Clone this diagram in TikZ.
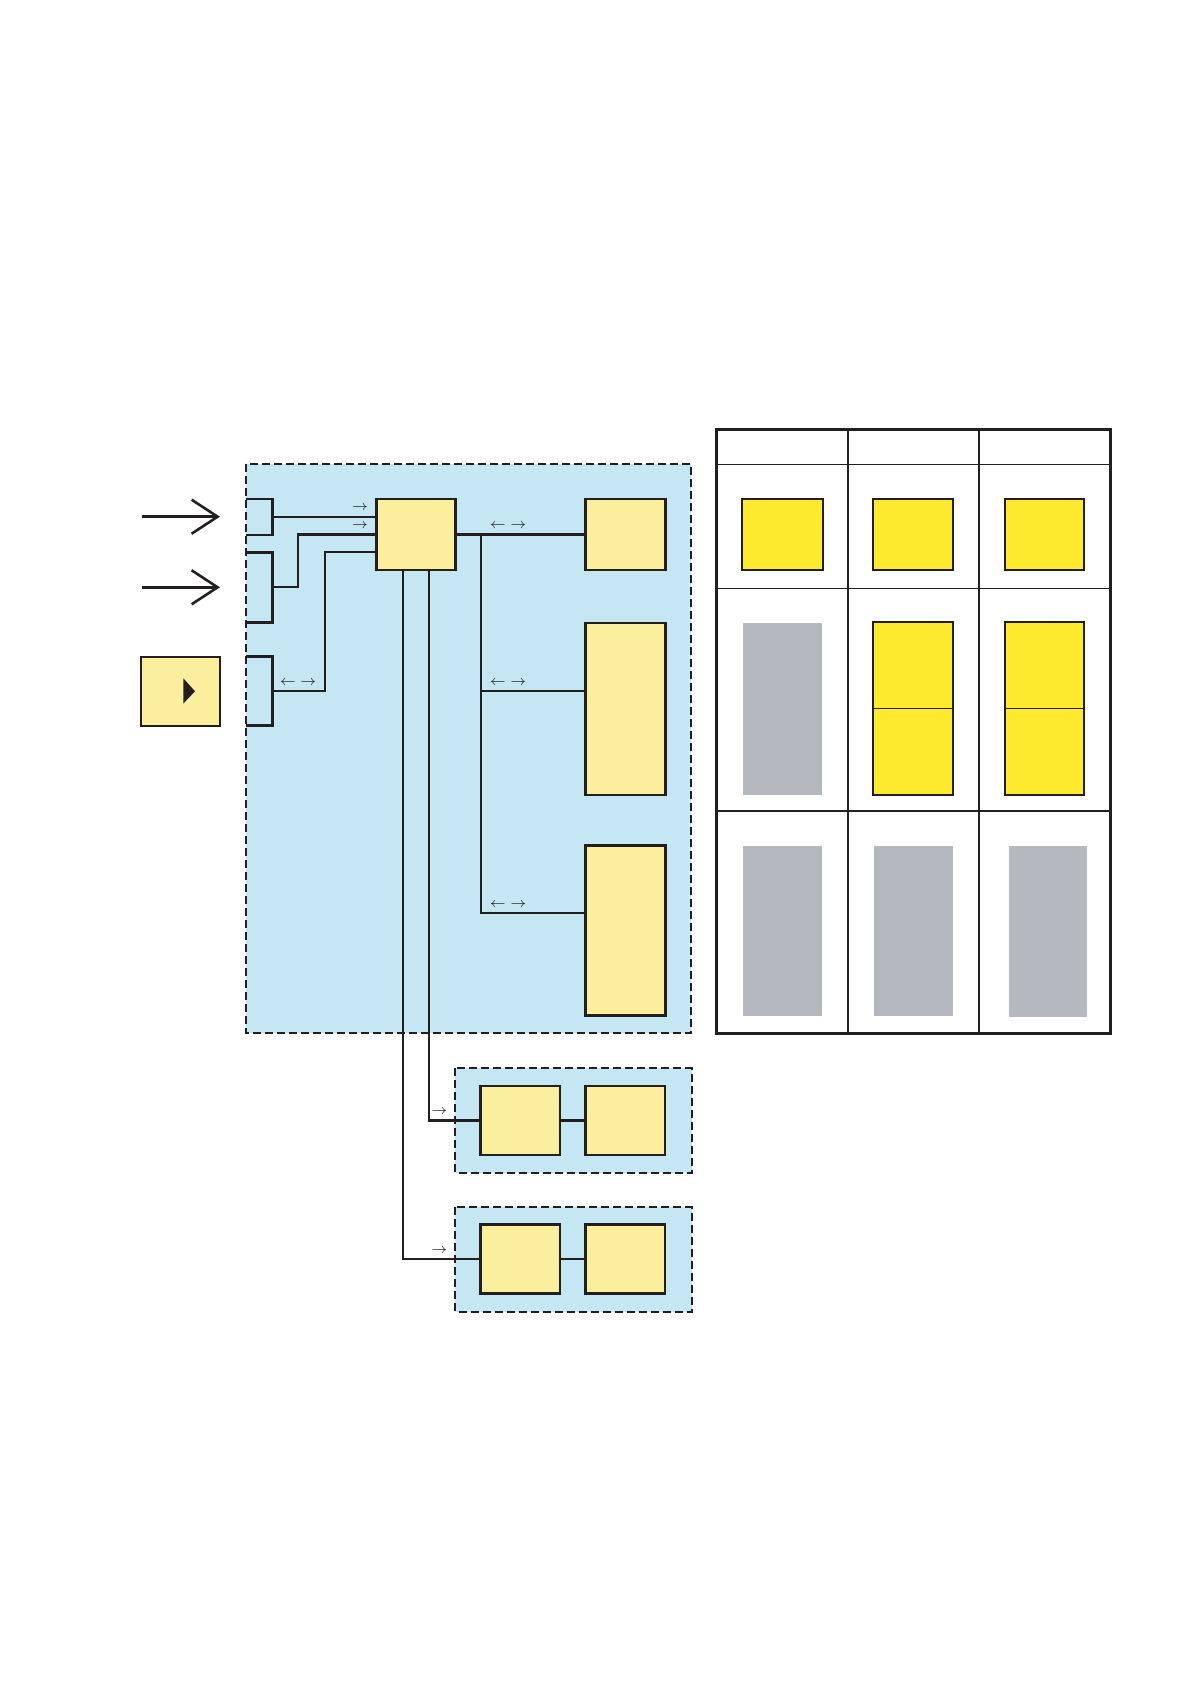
\documentclass[tikz,border=0pt]{standalone}
\usetikzlibrary{arrows.meta}
\definecolor{ink}{RGB}{35,31,32}
\definecolor{panelblue}{RGB}{196,231,243}
\definecolor{unityellow}{RGB}{251,239,157}
\definecolor{cellyellow}{RGB}{253,233,46}
\definecolor{cellgray}{RGB}{181,184,191}
\begin{document}
\begin{tikzpicture} [x = 0.5pt, y = -0.5pt, color = ink,
	unit/.style = {draw, line width = 1.3pt, fill = unityellow, inner sep = 0pt, outer sep = 0pt},
	port/.style = {inner sep = 0pt, outer sep = 0pt, minimum width = 13.5pt},
	panel/.style = {draw, line width = 1pt, dash pattern = on 4pt off 2pt, fill = panelblue},
	wire/.style = {line width = 1.15pt},
	flow/.style = {font = \fontsize{7}{8}\selectfont, inner sep = 0pt},
	feed/.style = {line width = 1.3pt, -{Straight Barb[length = 13pt, width = 17pt, line width = 1.3pt]}},
	cell/.style = {draw, line width = 1.1pt, fill = cellyellow}]
	\useasboundingbox (0,0) rectangle (1190,1684);
	% panels
	\draw [panel] (245.7,464.3) rectangle (690.7,1033.3);
	\draw [panel] (455,1068.3) rectangle (691.7,1172.7);
	\draw [panel] (455,1207.3) rectangle (691.7,1311.7);
	% inputs
	\coordinate (in1) at (141.7,516.7);
	\coordinate (in1tip) at (220,516.7);
	\coordinate (in2) at (141.7,587.3);
	\coordinate (in2tip) at (220,587.3);
	\draw [feed] (in1) -- (in1tip);
	\draw [feed] (in2) -- (in2tip);
	\node [unit, minimum width = 39.5pt, minimum height = 34.5pt] (start) at (180.5,691.3) {};
	\fill (start.center) ++(2.8,-13) -- ++(11.7,13) -- ++(-11.7,12.3) -- cycle;
	% ports on the panel edge
	\node [port, minimum height = 18pt] (p1) at (259.2,517) {};
	\node [port, minimum height = 35pt] (p2) at (259.2,587.3) {};
	\node [port, minimum height = 34.5pt] (p3) at (259.2,691.2) {};
	\draw [line width = 1.3pt] (p1.north west) -- (p1.north east) -- (p1.south east) -- (p1.south west);
	\draw [line width = 1.3pt] (p2.north west) -- (p2.north east) -- (p2.south east) -- (p2.south west);
	\draw [line width = 1.3pt] (p3.north west) -- (p3.north east) -- (p3.south east) -- (p3.south west);
	% units
	\node [unit, minimum width = 39.5pt, minimum height = 35.5pt] (hub) at (416.2,534.5) {};
	\node [unit, minimum width = 40pt, minimum height = 35.5pt] (r1) at (625.7,534.5) {};
	\node [unit, minimum width = 40pt, minimum height = 86pt] (r2) at (625.7,708.8) {};
	\node [unit, minimum width = 40pt, minimum height = 85pt] (r3) at (625.7,930.6) {};
	\node [unit, minimum width = 39.7pt, minimum height = 34.5pt] (q1a) at (520.3,1120.5) {};
	\node [unit, minimum width = 39.7pt, minimum height = 34.5pt] (q1b) at (625.3,1120.5) {};
	\node [unit, minimum width = 39.7pt, minimum height = 34.5pt] (q2a) at (520.3,1259.2) {};
	\node [unit, minimum width = 39.7pt, minimum height = 34.5pt] (q2b) at (625.3,1259.2) {};
	% wiring to the hub
	\path (hub.west) ++(0,17.8) coordinate (hubin3);
	\draw [wire] (p1.east) -- (p1.east -| hub.west);
	\draw [wire] (p2.east) -- ++(25.6,0) |- (hub.west);
	\draw [wire] (p3.east) -- ++(52.3,0) |- (hubin3);
	\node [flow] (f1) at (360,508) {$\rightarrow$};
	\node [flow] (f2) at (360,526) {$\rightarrow$};
	\node [flow] (f3) at (298,682.7) {$\leftarrow\;\rightarrow$};
	% bus to the right units
	\path (hub.east) ++(25.6,0) coordinate (bus);
	\coordinate (r2in) at (r2.west |- p3.east);
	\path (r3.west) ++(0,-17.3) coordinate (r3in);
	\draw [wire] (hub.east) -- (r1.west);
	\draw [wire] (bus) |- (r3in);
	\draw [wire] (bus |- r2in) -- (r2in);
	\node [flow] (f4) at (508,526) {$\leftarrow\;\rightarrow$};
	\node [flow] (f5) at (508,682.7) {$\leftarrow\;\rightarrow$};
	\node [flow] (f6) at (508,905) {$\leftarrow\;\rightarrow$};
	% lines down to the lower panels
	\draw [wire] (hub.south) ++(13.1,0) |- (q1a.west);
	\draw [wire] (hub.south) ++(-12.9,0) |- (q2a.west);
	\draw [wire] (q1a.east) -- (q1b.west);
	\draw [wire] (q2a.east) -- (q2b.west);
	\node [flow] (f7) at (439.3,1111.7) {$\rightarrow$};
	\node [flow] (f8) at (439.3,1250.4) {$\rightarrow$};
	% table
	\draw [line width = 0.6pt] (716.7,464.3) -- (1110,464.3);
	\draw [line width = 0.6pt] (716.7,588.3) -- (1110,588.3);
	\draw [line width = 0.6pt] (716.7,811) -- (1110,811);
	\draw [line width = 0.9pt] (847.7,430) -- (847.7,1033.3);
	\draw [line width = 0.9pt] (978.7,430) -- (978.7,1033.3);
	\draw [line width = 1.5pt] (716.7,430) rectangle (1110,1033.3);
	\draw [cell] (742.3,498.7) rectangle (822.7,570);
	\draw [cell] (873.3,498.7) rectangle (953.3,570);
	\draw [cell] (1004.7,498.7) rectangle (1084.3,570);
	\fill [cellgray] (743,623) rectangle (822,794.7);
	\draw [cell] (873.3,622) rectangle (953.3,795);
	\draw [line width = 0.6pt] (873.3,708.3) -- (953.3,708.3);
	\draw [cell] (1004.7,622) rectangle (1084.3,795);
	\draw [line width = 0.6pt] (1004.7,708.3) -- (1084.3,708.3);
	\fill [cellgray] (743,846) rectangle (822,1015.7);
	\fill [cellgray] (874,846) rectangle (953,1015.7);
	\fill [cellgray] (1009,846) rectangle (1087,1016.7);
\end{tikzpicture}
\end{document}
